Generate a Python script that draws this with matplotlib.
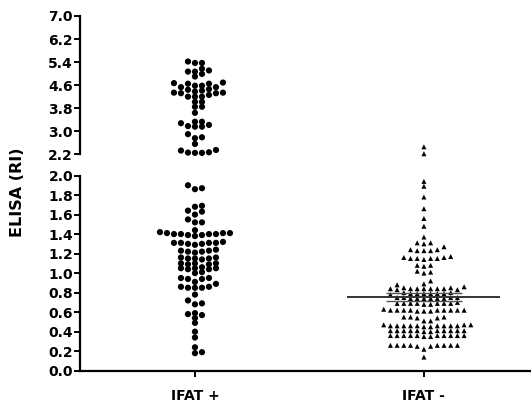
import matplotlib.pyplot as plt

plt.rcParams['font.family'] = ['DejaVu Sans']
plt.rcParams['font.weight'] = 'bold'

groups = ["IFAT +", "IFAT -"]

# ELISA values (RI)
ifat_pos = [5.42, 5.37, 5.37, 5.17, 5.11, 5.07, 5.07, 4.99, 4.90, 4.69,
            4.67, 4.65, 4.65, 4.58, 4.58, 4.53, 4.53, 4.46, 4.44, 4.41,
            4.38, 4.34, 4.34, 4.32, 4.32, 4.26, 4.20, 4.20, 4.20, 4.02,
            4.02, 3.85, 3.85, 3.64, 3.33, 3.33, 3.28, 3.22, 3.18, 3.16,
            3.16, 2.90, 2.79, 2.76, 2.56, 2.35, 2.33, 2.27, 2.26, 2.25, 2.25,
            1.90, 1.87, 1.86, 1.69, 1.68, 1.64, 1.63, 1.60, 1.55, 1.52,
            1.52, 1.44, 1.42,
            1.41, 1.40, 1.40, 1.39, 1.40, 1.39, 1.38, 1.40, 1.41, 1.41,
            1.32, 1.31, 1.30, 1.31, 1.31, 1.30, 1.29, 1.31,
            1.24, 1.23, 1.22, 1.22, 1.21, 1.23,
            1.16, 1.15, 1.15, 1.16, 1.15, 1.14,
            1.10, 1.10, 1.09, 1.10, 1.09,
            1.05, 1.05, 1.04, 1.05, 1.04, 1.06,
            1.01, 1.00,
            0.95, 0.95, 0.94, 0.94, 0.91,
            0.86, 0.85, 0.85, 0.85, 0.86, 0.89,
            0.78, 0.72, 0.68, 0.69,
            0.59, 0.57, 0.58, 0.54, 0.49, 0.40, 0.34, 0.24, 0.18, 0.19]

ifat_neg = [2.46, 2.22, 1.94, 1.89, 1.78, 1.66, 1.56, 1.48, 1.37,
            1.31, 1.31, 1.30,
            1.27, 1.24, 1.23, 1.23, 1.23, 1.24,
            1.16, 1.15, 1.14, 1.15, 1.15, 1.15, 1.16, 1.17,
            1.08, 1.08, 1.07, 1.02, 1.00, 1.01,
            0.92, 0.89, 0.88,
            0.84, 0.85, 0.84, 0.84, 0.83, 0.84, 0.84, 0.83, 0.84, 0.85, 0.84, 0.86,
            0.79, 0.79, 0.80, 0.79, 0.79, 0.78, 0.79, 0.79, 0.80,
            0.75, 0.74, 0.74, 0.75, 0.74, 0.74, 0.75, 0.74, 0.74, 0.75,
            0.69, 0.69, 0.68, 0.69, 0.69, 0.70, 0.69, 0.69, 0.68, 0.69,
            0.62, 0.62, 0.61, 0.62, 0.62, 0.61, 0.62, 0.62, 0.61, 0.62, 0.63, 0.62, 0.62,
            0.55, 0.55, 0.55, 0.54, 0.54, 0.51, 0.51,
            0.47, 0.46, 0.46, 0.46, 0.46, 0.45, 0.46, 0.46, 0.45, 0.46, 0.46, 0.47, 0.46, 0.47,
            0.41, 0.41, 0.41, 0.40, 0.41, 0.41, 0.40, 0.41, 0.41, 0.41, 0.41, 0.41,
            0.36, 0.36, 0.35, 0.36, 0.36, 0.36, 0.35, 0.36, 0.36, 0.36, 0.36, 0.36,
            0.26, 0.26, 0.26, 0.25, 0.26, 0.26, 0.25, 0.26, 0.26, 0.26,
            0.22, 0.14]

neg_mean = 0.755
neg_sem = [0.717, 0.80]

upper_ticks = [2.2, 3.0, 3.8, 4.6, 5.4, 6.2, 7.0]
lower_ticks = [0.0, 0.2, 0.4, 0.6, 0.8, 1.0, 1.2, 1.4, 1.6, 1.8, 2.0]

fig = plt.figure(figsize=(5.31, 4.08), dpi=100)
ax_top = fig.add_axes([0.1507, 0.6218, 0.849, 0.339])
ax_bot = fig.add_axes([0.1507, 0.0914, 0.849, 0.4784])

for ax in (ax_top, ax_bot):
    ax.set_xlim(-0.502, 1.467)
ax_top.set_ylim(2.2, 7.0)
ax_bot.set_ylim(0.0, 2.0)


def swarm(ax, values, center, col_px, gap_px):
    """Place points in fixed columns, nearest free column to the centre."""
    px_x = ax.transData.transform((1, 0))[0] - ax.transData.transform((0, 0))[0]
    step = col_px / px_x
    used = {}
    xs, ys = [], []
    for v in sorted(values):
        y = ax.transData.transform((0, v))[1]
        k = 0
        found = None
        while found is None:
            for col in ([0] if k == 0 else [k, -k]):
                if all(abs(y - yy) >= gap_px for yy in used.get(col, [])):
                    found = col
                    break
            k += 1
        used.setdefault(found, []).append(y)
        xs.append(center + found * step)
        ys.append(v)
    return xs, ys


for i, (vals, marker, size, col_px, gap) in enumerate(
        [(ifat_pos, 'o', 20, 7.0, 4.8), (ifat_neg, '^', 13, 6.7, 4.5)]):
    top_vals = [v for v in vals if v >= 2.2]
    bot_vals = [v for v in vals if v < 2.0]
    for ax, vv in ((ax_top, top_vals), (ax_bot, bot_vals)):
        xs, ys = swarm(ax, vv, i, col_px, gap)
        ax.scatter(xs, ys, marker=marker, s=size, c='black',
                   edgecolors='none', clip_on=False, zorder=3)

# mean and SEM for IFAT -
ax_bot.hlines(neg_mean, 1 - 0.334, 1 + 0.334, color='#333333', lw=1.4, zorder=4)
ax_bot.hlines(neg_sem, 1 - 0.166, 1 + 0.166, color='#555555', lw=1.0, zorder=4)

for ax, ticks in ((ax_top, upper_ticks), (ax_bot, lower_ticks)):
    ax.spines['top'].set_visible(False)
    ax.spines['right'].set_visible(False)
    ax.spines['left'].set_linewidth(1.6)
    ax.set_yticks(ticks)
    ax.set_yticklabels(['%.1f' % t for t in ticks])
    ax.tick_params(axis='y', length=4, width=1.4, pad=1, labelsize=10)

ax_top.spines['bottom'].set_visible(False)
ax_top.set_xticks([])
ax_bot.spines['bottom'].set_linewidth(1.6)
ax_bot.set_xticks([0, 1])
ax_bot.set_xticklabels(groups)
ax_bot.tick_params(axis='x', length=4, width=1.4, pad=9, labelsize=10)

fig.text(0.033, 0.529, "ELISA (RI)", rotation=90, ha='center', va='center',
         fontsize=11.5, fontweight='bold')

plt.savefig('out.png', dpi=100)
